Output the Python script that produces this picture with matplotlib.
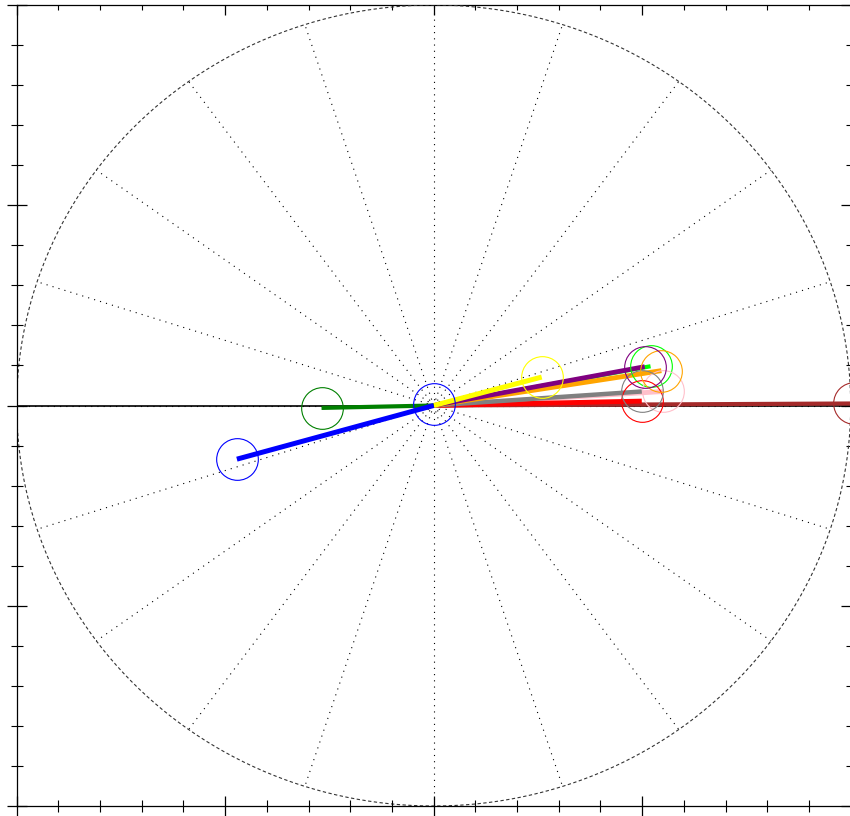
import numpy as np
import matplotlib
matplotlib.use("Agg")
import matplotlib.pyplot as plt

# phasor end points (x, y), one per colour
colors = ["lime", "pink", "brown", "red", "gray", "orange", "purple",
          "yellow", "green", "blue", "blue"]
x_end = [5.20, 5.50, 10.07, 4.99, 4.99, 5.46, 5.06, 2.59, -2.69, -4.72, 0.0]
y_end = [0.98, 0.35, 0.05, 0.11, 0.35, 0.87, 0.97, 0.71, -0.06, -1.34, 0.03]
line_w = [3.0, 3.5, 3.0, 3.5, 3.2, 3.5, 3.4, 3.6, 3.0, 3.6, 0.0]

radius = 10
n_spokes = 20

fig = plt.figure(figsize=(8.5, 8.16), dpi=100)
ax = fig.add_axes([16.7 / 850, 10 / 816, 834 / 850, 801 / 816])
ax.set_xlim(-radius, radius)
ax.set_ylim(-radius, radius)

# grid: dashed outer circle and dotted spokes every 18 degrees
t = np.linspace(0, 2 * np.pi, 721)
ax.plot(radius * np.cos(t), radius * np.sin(t), color="#333333", lw=0.8,
        linestyle=(0, (3, 2.2)), zorder=1)
for k in range(n_spokes):
    a = np.deg2rad(k * 360 / n_spokes)
    ax.plot([0, radius * np.cos(a)], [0, radius * np.sin(a)], color="black",
            lw=0.8, linestyle=(0, (1, 4.6)), zorder=1)
ax.axhline(0, color="black", lw=1.2, zorder=2)

# vectors with open circles at their tips
for c, x, y, w in zip(colors, x_end, y_end, line_w):
    if w > 0:
        ax.plot([0, x], [0, y], color=c, lw=w, solid_capstyle="butt", zorder=3)
for c, x, y in zip(colors, x_end, y_end):
    ax.plot(x, y, "o", mfc="none", mec=c, ms=30, mew=0.8, zorder=4)

# ticks: in/out on left+bottom, inward on top+right
ax.set_xticks(np.arange(-radius, radius + 1, 5))
ax.set_yticks(np.arange(-radius, radius + 1, 5))
ax.set_xticks(np.arange(-radius, radius + 1, 1), minor=True)
ax.set_yticks(np.arange(-radius, radius + 1, 1), minor=True)
ax.tick_params(which="major", direction="inout", length=14.4, width=0.9,
               labelbottom=False, labelleft=False)
ax.tick_params(which="minor", direction="inout", length=8.6, width=0.8)
ax.spines["top"].set_visible(False)
ax.spines["right"].set_visible(False)
for s in ["left", "bottom"]:
    ax.spines[s].set_linewidth(0.9)

top = ax.secondary_xaxis("top")
right = ax.secondary_yaxis("right")
for sec in (top, right):
    sec.set_ticks(np.arange(-radius, radius + 1, 5))
    sec.set_ticks(np.arange(-radius, radius + 1, 1), minor=True)
    sec.tick_params(which="major", direction="in", length=7.2, width=0.9,
                    labeltop=False, labelright=False)
    sec.tick_params(which="minor", direction="in", length=3.6, width=0.8)
top.spines["top"].set_linewidth(0.9)

fig.savefig("out.png", dpi=100)
